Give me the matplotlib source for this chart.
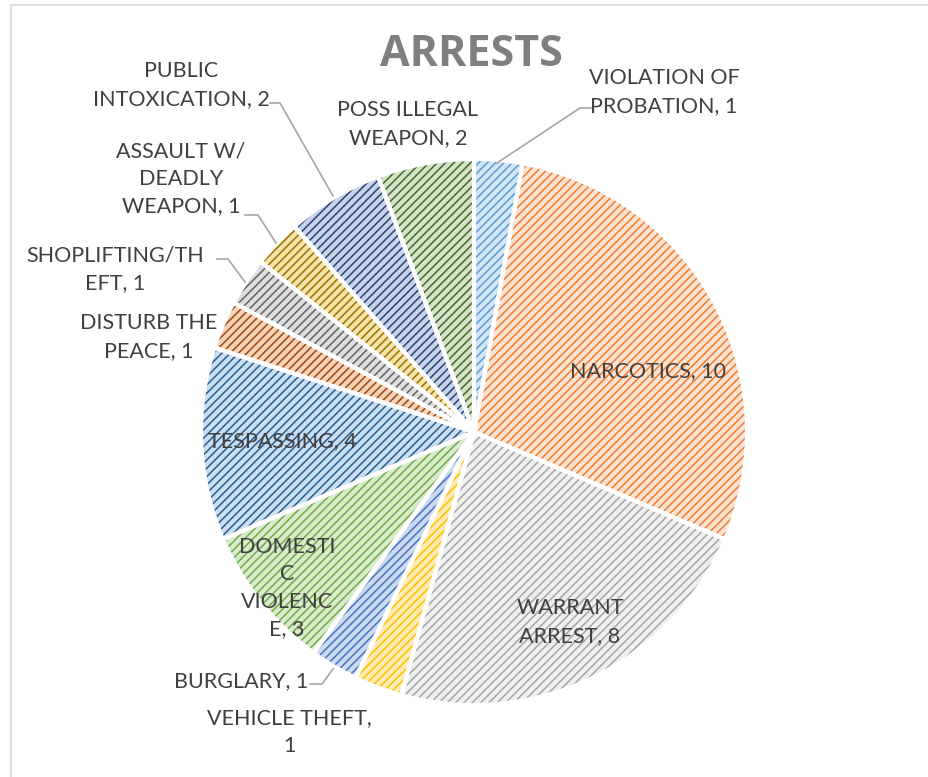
import matplotlib
matplotlib.use("Agg")
import matplotlib.pyplot as plt

# ---- data ----
categories = ["VIOLATION OF\nPROBATION", "NARCOTICS", "WARRANT\nARREST", "VEHICLE THEFT,\n", "BURGLARY",
              "DOMESTI\nC\nVIOLENC\nE", "TESPASSING", "DISTURB THE\nPEACE", "SHOPLIFTING/TH\nEFT",
              "ASSAULT W/\nDEADLY\nWEAPON", "PUBLIC\nINTOXICATION", "POSS ILLEGAL\nWEAPON"]
values = [1, 10, 8, 1, 1, 3, 4, 1, 1, 1, 2, 2]
fill_colors = ["#D2E5F5", "#FCE2D1", "#EFEFEF", "#FFEBB3", "#CCDAF0", "#D9EBCD",
               "#CBDDF0", "#F6D2B8", "#DEDEDE", "#F5E2A8", "#C8D3E8", "#D3E3C8"]
hatch_colors = ["#5B9BD5", "#ED7D31", "#A5A5A5", "#FFC000", "#4472C4", "#70AD47",
                "#255E91", "#9E480E", "#636363", "#997300", "#264478", "#43682B"]
title = "ARRESTS"

W, H = 929, 777
plt.rcParams['font.family'] = ['Lato', 'DejaVu Sans']
plt.rcParams['hatch.linewidth'] = 1.1

fig = plt.figure(figsize=(W / 100, H / 100), dpi=100)
ax = fig.add_axes([0, 0, 1, 1])

def Y(y):
    return H - y

cx, cy, r = 474, Y(432), 273
wedges, _ = ax.pie(values, center=(cx, cy), radius=r, startangle=90, counterclock=False,
                   colors=fill_colors, wedgeprops=dict(linewidth=0))
for w, hc in zip(wedges, hatch_colors):
    w.set_edgecolor(hc)
    w.set_hatch('////')
    w.set_linewidth(0)
ax.pie(values, center=(cx, cy), radius=r, startangle=90, counterclock=False,
       colors=['none'] * len(values), wedgeprops=dict(linewidth=3, edgecolor='white'))

ax.set_xlim(0, W)
ax.set_ylim(0, H)
ax.set_aspect('auto')
ax.axis('off')

# border
ax.plot([11, 11, W], [Y(H), Y(5), Y(5)], color="#D9D9D9", lw=1.2, clip_on=False)

tc = "#404040"
fs = 15.5
labels = [f"{c}, {v}" if not c.endswith("\n") else f"{c}{v}" for c, v in zip(categories, values)]
pos = [(664, 92), (648, 371), (570, 622), (289, 732), (241, 681), (287, 588), (282, 441),
       (149, 337), (115, 269), (181, 179), (181, 85), (408, 124)]
for lab, (x, y) in zip(labels, pos):
    ax.text(x, Y(y), lab, ha='center', va='center', fontsize=fs, color=tc, linespacing=1.45)

# leader lines
lc = "#A6A6A6"
leaders = [
    [(592, 108), (580, 108), (497, 163)],
    [(270, 103), (280, 103), (333, 196)],
    [(245, 215), (258, 215), (276, 243)],
    [(217, 259), (228, 259), (245, 282)],
    [(310, 684), (322, 684), (333, 669)],
]
for seg in leaders:
    ax.plot([p[0] for p in seg], [Y(p[1]) for p in seg], color=lc, lw=1.2)

ax.text(471, Y(55), title, ha='center', va='center', fontsize=31, fontweight='bold',
        color="#7F7F7F", family=['Open Sans', 'DejaVu Sans'])

fig.savefig("out.png", dpi=100)
